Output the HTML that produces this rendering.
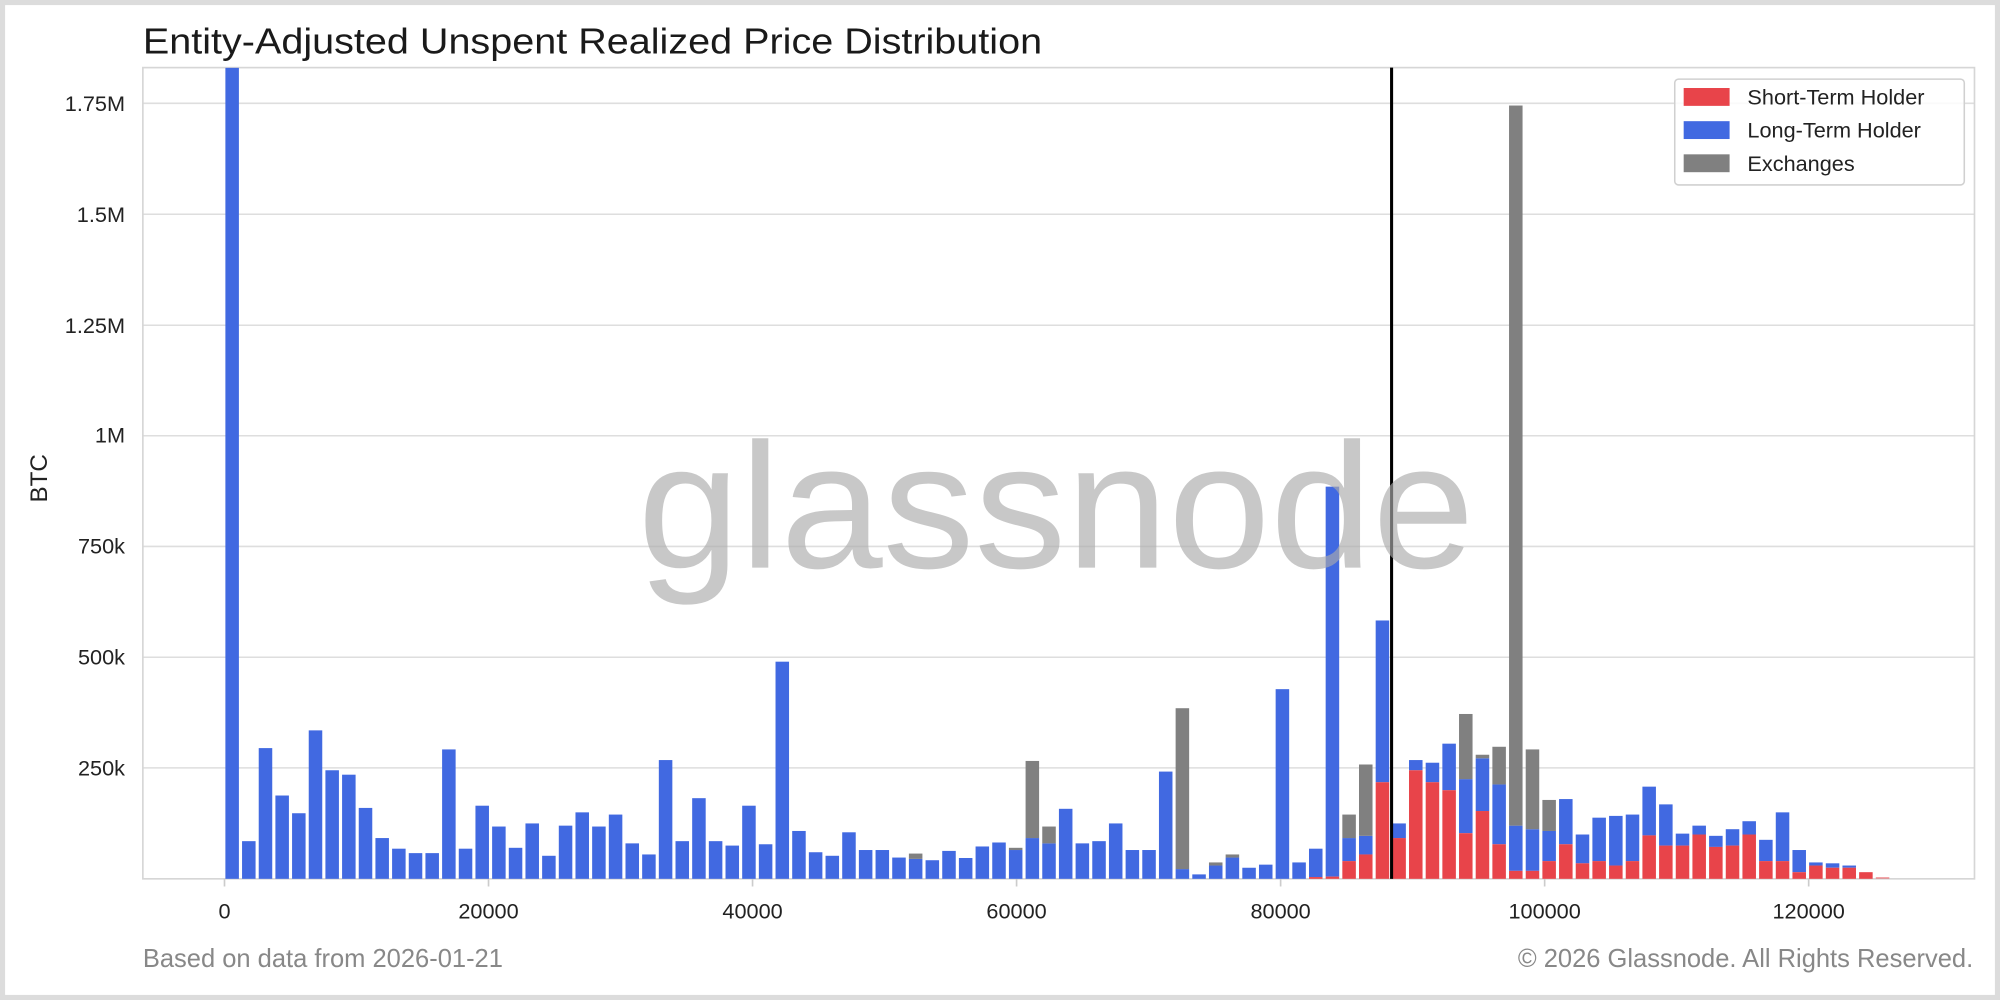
<!DOCTYPE html>
<html><head><meta charset="utf-8"><style>
html,body{margin:0;padding:0;background:#fff;}
svg{display:block;}
text{font-family:"Liberation Sans",sans-serif;}
</style></head><body>
<svg width="2000" height="1000" viewBox="0 0 1568 784" xmlns="http://www.w3.org/2000/svg">
<rect x="0" y="0" width="1568" height="784" fill="#fff"/>
<rect x="2" y="2" width="1564" height="780" fill="none" stroke="#dcdcdc" stroke-width="4"/>
<text x="112" y="42" font-size="28" fill="#1a1a1a" textLength="705" lengthAdjust="spacingAndGlyphs">Entity-Adjusted Unspent Realized Price Distribution</text>
<g stroke="#dedede" stroke-width="1.2">
<line x1="112" x2="1548" y1="81" y2="81"/><line x1="112" x2="1548" y1="168" y2="168"/>
<line x1="112" x2="1548" y1="255" y2="255"/><line x1="112" x2="1548" y1="341.6" y2="341.6"/>
<line x1="112" x2="1548" y1="428.4" y2="428.4"/><line x1="112" x2="1548" y1="515.3" y2="515.3"/>
<line x1="112" x2="1548" y1="602" y2="602"/>
</g>
<rect x="112" y="53" width="1436" height="636" fill="none" stroke="#d6d6d6" stroke-width="1.3"/>
<g font-size="17" fill="#222" text-anchor="end">
<text x="98" y="87">1.75M</text><text x="98" y="174">1.5M</text><text x="98" y="261">1.25M</text>
<text x="98" y="347">1M</text><text x="98" y="434">750k</text><text x="98" y="521">500k</text><text x="98" y="608">250k</text>
</g>
<text transform="translate(37,375) rotate(-90)" font-size="19" fill="#222" text-anchor="middle">BTC</text>
<g stroke="#ccc" stroke-width="1.3">
<line x1="176" x2="176" y1="689" y2="695"/><line x1="383" x2="383" y1="689" y2="695"/>
<line x1="590" x2="590" y1="689" y2="695"/><line x1="797" x2="797" y1="689" y2="695"/>
<line x1="1004" x2="1004" y1="689" y2="695"/><line x1="1211" x2="1211" y1="689" y2="695"/>
<line x1="1418" x2="1418" y1="689" y2="695"/>
</g>
<g font-size="17" fill="#222" text-anchor="middle">
<text x="176" y="720">0</text><text x="383" y="720">20000</text><text x="590" y="720">40000</text>
<text x="797" y="720">60000</text><text x="1004" y="720">80000</text><text x="1211" y="720">100000</text><text x="1418" y="720">120000</text>
</g>
<g transform="translate(176.7,689) scale(13.07,-0.34743)">
<g fill="#4169e1">
<rect x="0" y="0" width="0.811" height="1830"/>
<rect x="1" y="0" width="0.811" height="85"/>
<rect x="2" y="0" width="0.811" height="295"/>
<rect x="3" y="0" width="0.811" height="188"/>
<rect x="4" y="0" width="0.811" height="148"/>
<rect x="5" y="0" width="0.811" height="335"/>
<rect x="6" y="0" width="0.811" height="245"/>
<rect x="7" y="0" width="0.811" height="235"/>
<rect x="8" y="0" width="0.811" height="160"/>
<rect x="9" y="0" width="0.811" height="92"/>
<rect x="10" y="0" width="0.811" height="68"/>
<rect x="11" y="0" width="0.811" height="58"/>
<rect x="12" y="0" width="0.811" height="58"/>
<rect x="13" y="0" width="0.811" height="292"/>
<rect x="14" y="0" width="0.811" height="68"/>
<rect x="15" y="0" width="0.811" height="165"/>
<rect x="16" y="0" width="0.811" height="118"/>
<rect x="17" y="0" width="0.811" height="70"/>
<rect x="18" y="0" width="0.811" height="125"/>
<rect x="19" y="0" width="0.811" height="52"/>
<rect x="20" y="0" width="0.811" height="120"/>
<rect x="21" y="0" width="0.811" height="150"/>
<rect x="22" y="0" width="0.811" height="118"/>
<rect x="23" y="0" width="0.811" height="145"/>
<rect x="24" y="0" width="0.811" height="80"/>
<rect x="25" y="0" width="0.811" height="55"/>
<rect x="26" y="0" width="0.811" height="268"/>
<rect x="27" y="0" width="0.811" height="85"/>
<rect x="28" y="0" width="0.811" height="182"/>
<rect x="29" y="0" width="0.811" height="85"/>
<rect x="30" y="0" width="0.811" height="75"/>
<rect x="31" y="0" width="0.811" height="165"/>
<rect x="32" y="0" width="0.811" height="78"/>
<rect x="33" y="0" width="0.811" height="490"/>
<rect x="34" y="0" width="0.811" height="108"/>
<rect x="35" y="0" width="0.811" height="60"/>
<rect x="36" y="0" width="0.811" height="52"/>
<rect x="37" y="0" width="0.811" height="105"/>
<rect x="38" y="0" width="0.811" height="65"/>
<rect x="39" y="0" width="0.811" height="65"/>
<rect x="40" y="0" width="0.811" height="48"/>
<rect x="41" y="0" width="0.811" height="45"/>
<rect x="42" y="0" width="0.811" height="42"/>
<rect x="43" y="0" width="0.811" height="63"/>
<rect x="44" y="0" width="0.811" height="47"/>
<rect x="45" y="0" width="0.811" height="73"/>
<rect x="46" y="0" width="0.811" height="82"/>
<rect x="47" y="0" width="0.811" height="65"/>
<rect x="48" y="0" width="0.811" height="92"/>
<rect x="49" y="0" width="0.811" height="80"/>
<rect x="50" y="0" width="0.811" height="158"/>
<rect x="51" y="0" width="0.811" height="80"/>
<rect x="52" y="0" width="0.811" height="85"/>
<rect x="53" y="0" width="0.811" height="125"/>
<rect x="54" y="0" width="0.811" height="65"/>
<rect x="55" y="0" width="0.811" height="65"/>
<rect x="56" y="0" width="0.811" height="242"/>
<rect x="57" y="0" width="0.811" height="22"/>
<rect x="58" y="0" width="0.811" height="10"/>
<rect x="59" y="0" width="0.811" height="30"/>
<rect x="60" y="0" width="0.811" height="48"/>
<rect x="61" y="0" width="0.811" height="25"/>
<rect x="62" y="0" width="0.811" height="32"/>
<rect x="63" y="0" width="0.811" height="428"/>
<rect x="64" y="0" width="0.811" height="37"/>
<rect x="65" y="4" width="0.811" height="64"/>
<rect x="66" y="5" width="0.811" height="880"/>
<rect x="67" y="40" width="0.811" height="52"/>
<rect x="68" y="55" width="0.811" height="42"/>
<rect x="69" y="218" width="0.811" height="365"/>
<rect x="70" y="92" width="0.811" height="33"/>
<rect x="71" y="245" width="0.811" height="23"/>
<rect x="72" y="218" width="0.811" height="44"/>
<rect x="73" y="200" width="0.811" height="105"/>
<rect x="74" y="103" width="0.811" height="122"/>
<rect x="75" y="153" width="0.811" height="119"/>
<rect x="76" y="78" width="0.811" height="135"/>
<rect x="77" y="18" width="0.811" height="102"/>
<rect x="78" y="18" width="0.811" height="94"/>
<rect x="79" y="40" width="0.811" height="68"/>
<rect x="80" y="78" width="0.811" height="102"/>
<rect x="81" y="35" width="0.811" height="65"/>
<rect x="82" y="40" width="0.811" height="98"/>
<rect x="83" y="30" width="0.811" height="112"/>
<rect x="84" y="40" width="0.811" height="105"/>
<rect x="85" y="98" width="0.811" height="110"/>
<rect x="86" y="75" width="0.811" height="93"/>
<rect x="87" y="75" width="0.811" height="27"/>
<rect x="88" y="100" width="0.811" height="20"/>
<rect x="89" y="72" width="0.811" height="25"/>
<rect x="90" y="75" width="0.811" height="37"/>
<rect x="91" y="100" width="0.811" height="30"/>
<rect x="92" y="40" width="0.811" height="48"/>
<rect x="93" y="40" width="0.811" height="110"/>
<rect x="94" y="15" width="0.811" height="50"/>
<rect x="95" y="30" width="0.811" height="7"/>
<rect x="96" y="25" width="0.811" height="10"/>
<rect x="97" y="25" width="0.811" height="5"/>
</g>
<g fill="#e8444a">
<rect x="65" y="0" width="0.811" height="4"/>
<rect x="66" y="0" width="0.811" height="5"/>
<rect x="67" y="0" width="0.811" height="40"/>
<rect x="68" y="0" width="0.811" height="55"/>
<rect x="69" y="0" width="0.811" height="218"/>
<rect x="70" y="0" width="0.811" height="92"/>
<rect x="71" y="0" width="0.811" height="245"/>
<rect x="72" y="0" width="0.811" height="218"/>
<rect x="73" y="0" width="0.811" height="200"/>
<rect x="74" y="0" width="0.811" height="103"/>
<rect x="75" y="0" width="0.811" height="153"/>
<rect x="76" y="0" width="0.811" height="78"/>
<rect x="77" y="0" width="0.811" height="18"/>
<rect x="78" y="0" width="0.811" height="18"/>
<rect x="79" y="0" width="0.811" height="40"/>
<rect x="80" y="0" width="0.811" height="78"/>
<rect x="81" y="0" width="0.811" height="35"/>
<rect x="82" y="0" width="0.811" height="40"/>
<rect x="83" y="0" width="0.811" height="30"/>
<rect x="84" y="0" width="0.811" height="40"/>
<rect x="85" y="0" width="0.811" height="98"/>
<rect x="86" y="0" width="0.811" height="75"/>
<rect x="87" y="0" width="0.811" height="75"/>
<rect x="88" y="0" width="0.811" height="100"/>
<rect x="89" y="0" width="0.811" height="72"/>
<rect x="90" y="0" width="0.811" height="75"/>
<rect x="91" y="0" width="0.811" height="100"/>
<rect x="92" y="0" width="0.811" height="40"/>
<rect x="93" y="0" width="0.811" height="40"/>
<rect x="94" y="0" width="0.811" height="15"/>
<rect x="95" y="0" width="0.811" height="30"/>
<rect x="96" y="0" width="0.811" height="25"/>
<rect x="97" y="0" width="0.811" height="25"/>
<rect x="98" y="0" width="0.811" height="15"/>
<rect x="99" y="0" width="0.811" height="4" fill-opacity="0.5"/>
</g>
<g fill="#808080">
<rect x="41" y="45" width="0.811" height="12"/>
<rect x="47" y="65" width="0.811" height="5"/>
<rect x="48" y="92" width="0.811" height="174"/>
<rect x="49" y="80" width="0.811" height="38"/>
<rect x="57" y="22" width="0.811" height="363"/>
<rect x="59" y="30" width="0.811" height="7"/>
<rect x="60" y="48" width="0.811" height="7"/>
<rect x="67" y="92" width="0.811" height="53"/>
<rect x="68" y="97" width="0.811" height="161"/>
<rect x="74" y="225" width="0.811" height="147"/>
<rect x="75" y="272" width="0.811" height="8"/>
<rect x="76" y="213" width="0.811" height="85"/>
<rect x="77" y="120" width="0.811" height="1625"/>
<rect x="78" y="112" width="0.811" height="180"/>
<rect x="79" y="108" width="0.811" height="70"/>
</g>
</g>
<line x1="1091" x2="1091" y1="53" y2="689" stroke="#000" stroke-width="2.4"/>
<text x="500" y="445" font-size="140" fill="#aaa" fill-opacity="0.65" textLength="656" lengthAdjust="spacingAndGlyphs">glassnode</text>
<rect x="1313" y="62" width="227" height="83" rx="3" fill="#fff" fill-opacity="0.85" stroke="#d0d0d0" stroke-width="1.2"/>
<rect x="1320" y="69" width="36" height="14" fill="#e8444a"/>
<rect x="1320" y="95" width="36" height="14" fill="#4169e1"/>
<rect x="1320" y="121" width="36" height="14" fill="#808080"/>
<g font-size="17" fill="#222">
<text x="1370" y="82">Short-Term Holder</text><text x="1370" y="108">Long-Term Holder</text><text x="1370" y="134">Exchanges</text>
</g>
<text x="112" y="758" font-size="20" fill="#888">Based on data from 2026-01-21</text>
<text x="1547" y="758" font-size="20" fill="#888" text-anchor="end">© 2026 Glassnode. All Rights Reserved.</text>
</svg>
</body></html>
